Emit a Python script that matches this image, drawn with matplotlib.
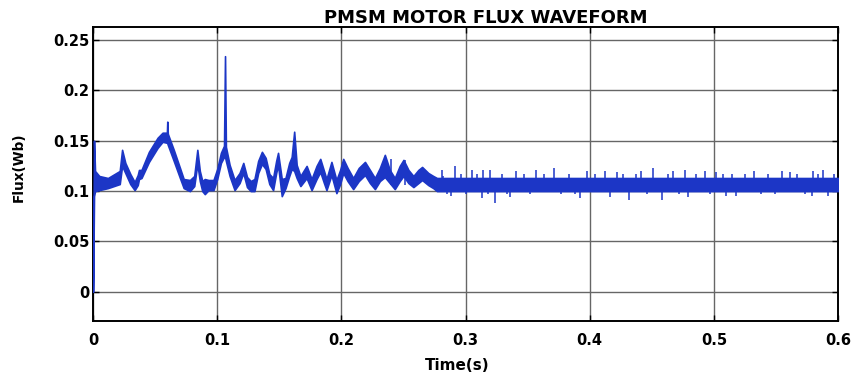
"""PMSM motor flux waveform redrawn from a simulation screenshot."""

import matplotlib
matplotlib.use('Agg')
import matplotlib.pyplot as plt

# Envelope of the flux ripple band: time [s], lower and upper edge [Wb].
time_s = [0.0, 0.0008, 0.0016, 0.005, 0.012, 0.0215, 0.0234, 0.026, 0.030, 0.0335,
          0.036, 0.037, 0.039, 0.045, 0.052, 0.056, 0.0595, 0.0598, 0.0602, 0.065,
          0.070, 0.073, 0.078, 0.0815, 0.084, 0.086, 0.088, 0.090, 0.093, 0.097,
          0.100, 0.103, 0.1055, 0.1063, 0.107, 0.110, 0.114, 0.118, 0.121, 0.124,
          0.127, 0.130, 0.133, 0.136, 0.139, 0.142, 0.145, 0.1475, 0.149, 0.152,
          0.155, 0.158, 0.160, 0.162, 0.164, 0.167, 0.172, 0.176, 0.180, 0.183,
          0.186, 0.188, 0.192, 0.196, 0.199, 0.2015, 0.205, 0.2095, 0.214, 0.219,
          0.223, 0.227, 0.231, 0.235, 0.239, 0.243, 0.247, 0.250, 0.254, 0.258,
          0.262, 0.265, 0.270, 0.274, 0.277, 0.6]
flux_lower = [0.0, 0.095, 0.100, 0.101, 0.103, 0.107, 0.125, 0.118, 0.107, 0.101,
              0.106, 0.112, 0.113, 0.129, 0.143, 0.149, 0.148, 0.148, 0.146, 0.130,
              0.113, 0.103, 0.100, 0.105, 0.127, 0.110, 0.100, 0.097, 0.101, 0.101,
              0.112, 0.128, 0.134, 0.134, 0.130, 0.115, 0.101, 0.108, 0.118, 0.104,
              0.100, 0.100, 0.118, 0.127, 0.122, 0.107, 0.101, 0.118, 0.126, 0.095,
              0.103, 0.115, 0.122, 0.120, 0.113, 0.105, 0.113, 0.101, 0.112, 0.119,
              0.108, 0.101, 0.116, 0.098, 0.107, 0.118, 0.110, 0.102, 0.110, 0.116,
              0.108, 0.102, 0.110, 0.114, 0.108, 0.102, 0.110, 0.115, 0.108, 0.104,
              0.108, 0.111, 0.106, 0.103, 0.100, 0.100]
flux_upper = [0.0, 0.150, 0.120, 0.115, 0.113, 0.120, 0.141, 0.128, 0.117, 0.109,
              0.116, 0.121, 0.121, 0.139, 0.153, 0.158, 0.158, 0.169, 0.157, 0.141,
              0.123, 0.112, 0.111, 0.115, 0.141, 0.120, 0.110, 0.112, 0.111, 0.111,
              0.122, 0.138, 0.145, 0.234, 0.144, 0.126, 0.111, 0.118, 0.128, 0.114,
              0.110, 0.112, 0.130, 0.139, 0.133, 0.117, 0.113, 0.130, 0.138, 0.112,
              0.113, 0.128, 0.134, 0.159, 0.126, 0.115, 0.125, 0.112, 0.125, 0.132,
              0.120, 0.112, 0.129, 0.111, 0.121, 0.132, 0.123, 0.113, 0.123, 0.129,
              0.121, 0.113, 0.123, 0.136, 0.121, 0.113, 0.125, 0.131, 0.121, 0.115,
              0.121, 0.124, 0.118, 0.115, 0.113, 0.113]

# Isolated ripple spikes: time [s], tip value [Wb].
spike_t = [0.240, 0.251, 0.281, 0.282, 0.285, 0.288, 0.2915, 0.296, 0.300, 0.305,
           0.309, 0.313, 0.314, 0.318, 0.320, 0.324, 0.329, 0.333, 0.336, 0.341,
           0.347, 0.352, 0.357, 0.363, 0.371, 0.377, 0.383, 0.388, 0.392, 0.398,
           0.404, 0.412, 0.416, 0.422, 0.427, 0.432, 0.437, 0.441, 0.446, 0.451,
           0.458, 0.463, 0.467, 0.472, 0.477, 0.479, 0.486, 0.493, 0.497, 0.502,
           0.507, 0.510, 0.515, 0.518, 0.525, 0.532, 0.538, 0.544, 0.549, 0.555,
           0.561, 0.567, 0.573, 0.579, 0.580, 0.584, 0.588, 0.592, 0.597]
spike_tip = [0.132, 0.131, 0.121, 0.115, 0.097, 0.095, 0.125, 0.117, 0.097, 0.121,
             0.117, 0.093, 0.121, 0.097, 0.121, 0.088, 0.117, 0.097, 0.094, 0.120,
             0.117, 0.097, 0.121, 0.117, 0.123, 0.097, 0.117, 0.097, 0.093, 0.120,
             0.117, 0.120, 0.094, 0.119, 0.117, 0.091, 0.117, 0.120, 0.097, 0.123,
             0.091, 0.117, 0.120, 0.097, 0.121, 0.094, 0.117, 0.120, 0.097, 0.119,
             0.117, 0.095, 0.117, 0.095, 0.117, 0.120, 0.097, 0.117, 0.097, 0.120,
             0.119, 0.117, 0.097, 0.095, 0.120, 0.117, 0.121, 0.095, 0.117]

x_ticks = [0, 0.1, 0.2, 0.3, 0.4, 0.5, 0.6]
x_tick_labels = ['0', '0.1', '0.2', '0.3', '0.4', '0.5', '0.6']
y_ticks = [0, 0.05, 0.1, 0.15, 0.2, 0.25]
y_tick_labels = ['0', '0.05', '0.1', '0.15', '0.2', '0.25']

LINE_COLOR = '#1c36c6'
SPIKE_BASE = 0.106

plt.rcParams['font.family'] = ['DejaVu Sans']

fig = plt.figure(figsize=(8.52, 3.76), dpi=100)
ax = fig.add_axes([0.1092, 0.1463, 0.8744, 0.7819])

# Ripple band and start-up transient.
ax.fill_between(time_s, flux_lower, flux_upper, color=LINE_COLOR, linewidth=1.2,
                edgecolor=LINE_COLOR, zorder=3)
ax.vlines(spike_t, SPIKE_BASE, spike_tip, color=LINE_COLOR, linewidth=1.1, zorder=3)

ax.set_xlim(0, 0.6)
ax.set_ylim(-0.029, 0.263)
ax.set_xticks(x_ticks)
ax.set_xticklabels(x_tick_labels, fontsize=10.5, fontweight='bold')
ax.set_yticks(y_ticks)
ax.set_yticklabels(y_tick_labels, fontsize=10.5, fontweight='bold')
ax.tick_params(axis='x', direction='in', length=4, width=1, top=True, pad=9)
ax.tick_params(axis='y', direction='in', length=4, width=1, right=True, pad=2.5)

ax.grid(True, color='#666666', linewidth=1.0)
ax.set_axisbelow(True)
for spine in ax.spines.values():
    spine.set_linewidth(1.4)
    spine.set_color('black')

ax.text(0.5275, 1.0146, 'PMSM MOTOR FLUX WAVEFORM', transform=ax.transAxes,
        ha='center', va='baseline', fontsize=13, fontweight='bold')
ax.set_xlabel('Time(s)', fontsize=11, fontweight='bold')
ax.xaxis.set_label_coords(0.489, -0.126)
ax.set_ylabel('Flux(Wb)', fontsize=9.8, fontweight='bold')
ax.yaxis.set_label_coords(-0.09, 0.522)

fig.savefig('out.png', dpi=100)
